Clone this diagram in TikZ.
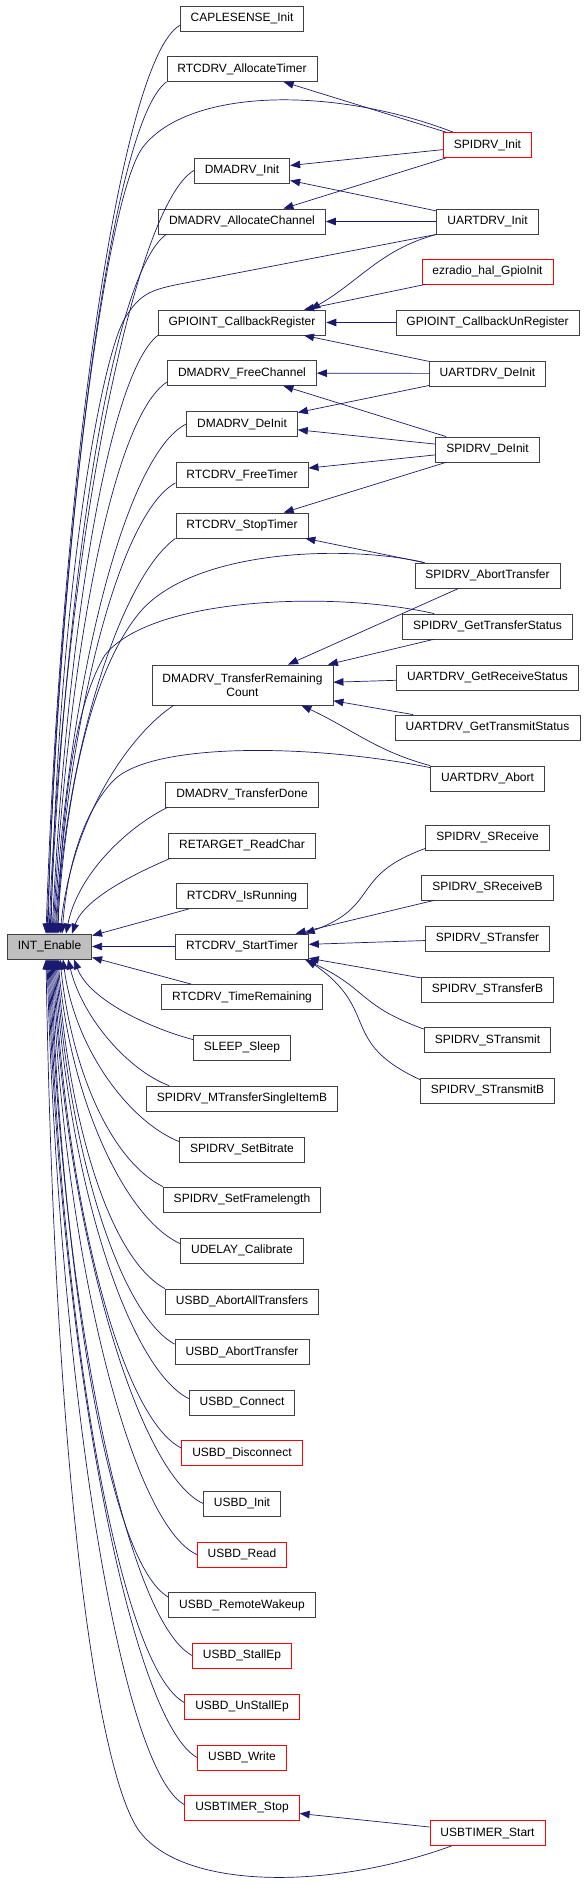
\documentclass[tikz,border=0pt]{standalone}
\usepackage{fontspec}
\setmainfont{Liberation Sans}
\usepackage{tikz}
\usetikzlibrary{arrows.meta,calc}
\definecolor{EDGE}{HTML}{191970}
\definecolor{FRAME}{HTML}{404040}
\definecolor{RED}{HTML}{FF0000}
\definecolor{ROOT}{HTML}{BFBFBF}

\begin{document}
\begin{tikzpicture}[x=1pt,y=1pt]
\tikzset{fn/.style={draw=FRAME,line width=0.8pt,fill=white,rectangle,minimum height=25pt,inner xsep=10.5pt,inner ysep=2pt,font=\fontsize{12}{14.5}\selectfont},
 fnred/.style={fn,draw=RED},fnroot/.style={fn,fill=ROOT},
 callln/.style={{Triangle[length=10pt,width=7.5pt]}-,draw=EDGE,line width=0.7pt}}
\useasboundingbox (0,0) rectangle (587,-1884);
% left: the called function
\node[fnroot] (int) at (49.5,-946.5) {INT\_Enable};
% middle column
\node[fn] (cap) at (242,-18.5) {CAPLESENSE\_Init};
\node[fn] (rtcalloc) at (242,-69) {RTCDRV\_AllocateTimer};
\node[fn] (dmainit) at (242,-170.5) {DMADRV\_Init};
\node[fn] (dmaalloc) at (242,-221.5) {DMADRV\_AllocateChannel};
\node[fn] (gpioreg) at (242,-322.5) {GPIOINT\_CallbackRegister};
\node[fn] (dmafree) at (242,-373) {DMADRV\_FreeChannel};
\node[fn] (dmadeinit) at (242,-424) {DMADRV\_DeInit};
\node[fn] (rtcfree) at (242,-475) {RTCDRV\_FreeTimer};
\node[fn] (rtcstop) at (242,-525.5) {RTCDRV\_StopTimer};
\node[fn,minimum height=40pt,align=center] (trc) at (242.5,-685) {DMADRV\_TransferRemaining\\Count};
\node[fn] (dmadone) at (242,-794.5) {DMADRV\_TransferDone};
\node[fn] (retarget) at (242,-845.5) {RETARGET\_ReadChar};
\node[fn] (rtcisrun) at (242,-896) {RTCDRV\_IsRunning};
\node[fn] (rtcstart) at (242,-946.5) {RTCDRV\_StartTimer};
\node[fn] (rtcremain) at (242,-997) {RTCDRV\_TimeRemaining};
\node[fn] (sleep) at (242,-1047.5) {SLEEP\_Sleep};
\node[fn] (mtransfer) at (242,-1098.5) {SPIDRV\_MTransferSingleItemB};
\node[fn] (setbitrate) at (242,-1149.5) {SPIDRV\_SetBitrate};
\node[fn] (setframe) at (242,-1199.5) {SPIDRV\_SetFramelength};
\node[fn] (udelay) at (242,-1250.5) {UDELAY\_Calibrate};
\node[fn] (usbabortall) at (242,-1301.5) {USBD\_AbortAllTransfers};
\node[fn] (usbabort) at (242,-1352) {USBD\_AbortTransfer};
\node[fn] (usbconnect) at (242,-1402.5) {USBD\_Connect};
\node[fnred] (usbdisconn) at (242,-1453) {USBD\_Disconnect};
\node[fn] (usbinit) at (242,-1503.5) {USBD\_Init};
\node[fnred] (usbread) at (242,-1554.5) {USBD\_Read};
\node[fn] (usbwakeup) at (242,-1605) {USBD\_RemoteWakeup};
\node[fnred] (usbstall) at (242,-1655.5) {USBD\_StallEp};
\node[fnred] (usbunstall) at (242,-1706.5) {USBD\_UnStallEp};
\node[fnred] (usbwrite) at (242,-1757.5) {USBD\_Write};
\node[fnred] (usbtstop) at (242,-1807.5) {USBTIMER\_Stop};
% right column
\node[fnred] (spiinit) at (487.5,-145) {SPIDRV\_Init};
\node[fn] (uartinit) at (487.5,-221.5) {UARTDRV\_Init};
\node[fnred] (ezradio) at (487.5,-271.5) {ezradio\_hal\_GpioInit};
\node[fn] (gpiounreg) at (487.5,-322.5) {GPIOINT\_CallbackUnRegister};
\node[fn] (uartdeinit) at (487.5,-373.5) {UARTDRV\_DeInit};
\node[fn] (spideinit) at (487.5,-449.5) {SPIDRV\_DeInit};
\node[fn] (spiabort) at (487.5,-575.5) {SPIDRV\_AbortTransfer};
\node[fn] (spigetstat) at (487.5,-626.5) {SPIDRV\_GetTransferStatus};
\node[fn] (uartgetrx) at (487.5,-677.5) {UARTDRV\_GetReceiveStatus};
\node[fn] (uartgettx) at (487.5,-727.5) {UARTDRV\_GetTransmitStatus};
\node[fn] (uartabort) at (487.5,-778.5) {UARTDRV\_Abort};
\node[fn] (sreceive) at (487.5,-837.5) {SPIDRV\_SReceive};
\node[fn] (sreceiveb) at (487.5,-887.5) {SPIDRV\_SReceiveB};
\node[fn] (stransfer) at (487.5,-938.5) {SPIDRV\_STransfer};
\node[fn] (stransferb) at (487.5,-989.5) {SPIDRV\_STransferB};
\node[fn] (stransmit) at (487.5,-1040) {SPIDRV\_STransmit};
\node[fn] (stransmitb) at (487.5,-1090.5) {SPIDRV\_STransmitB};
\node[fnred] (usbtstart) at (487.5,-1833) {USBTIMER\_Start};
% callers of INT_Enable, upper half
\draw[callln] ([xshift=-3.5pt]int.north) .. controls +(15,450) and +(-60,-35) .. ([yshift=6pt]cap.south west);
\draw[callln] ([xshift=-2.5pt]int.north) .. controls +(15,420) and +(-55,-40) .. (rtcalloc.south west);
\draw[callln] ([xshift=-1.5pt]int.north) .. controls (55,-600) and (103,-199) .. (143,-147) .. controls (188,-89) and (330,-85) .. ([xshift=10pt]spiinit.north west);
\draw[callln] ([xshift=-0.5pt]int.north) .. controls +(15,380) and +(-60,-35) .. (dmainit.west);
\draw[callln] ([xshift=0.5pt]int.north) .. controls +(15,350) and +(-55,-40) .. ([xshift=8pt]dmaalloc.south west);
\draw[callln] ([xshift=1.5pt]int.north) .. controls (58,-600) and (100,-360) .. (125,-318) .. controls (140,-294) and (150,-290) .. (180,-284) -- (uartinit.south west);
\draw[callln] ([xshift=2.5pt]int.north) .. controls +(15,300) and +(-50,-40) .. (gpioreg.south west);
\draw[callln] ([xshift=3.5pt]int.north) .. controls +(15,275) and +(-55,-35) .. ([yshift=4pt]dmafree.south west);
\draw[callln] ([xshift=4.5pt]int.north) .. controls +(15,255) and +(-60,-30) .. (dmadeinit.west);
\draw[callln] ([xshift=5.5pt]int.north) .. controls +(15,225) and +(-55,-30) .. ([yshift=5pt]rtcfree.south west);
\draw[callln] ([xshift=6.5pt]int.north) .. controls +(12,200) and +(-50,-35) .. (rtcstop.south west);
\draw[callln] ([xshift=7.5pt]int.north) .. controls (68,-760) and (100,-660) .. (140,-612) .. controls (195,-548) and (350,-545) .. ([xshift=10pt]spiabort.north west);
\draw[callln] ([xshift=8.5pt]int.north) .. controls (62,-800) and (75,-705) .. (105,-655) .. controls (150,-598) and (330,-590) .. ([xshift=32pt]spigetstat.north west);
\draw[callln] ([xshift=10.5pt]int.north) .. controls +(12,115) and +(-45,-30) .. ([xshift=22pt]trc.south west);
\draw[callln] ([xshift=12.5pt]int.north) .. controls (68,-860) and (85,-812) .. (112,-782) .. controls (150,-740) and (320,-745) .. ([yshift=-2pt]uartabort.north west);
\draw[callln] ([xshift=16.5pt]int.north) .. controls +(12,60) and +(-40,-20) .. ([xshift=2pt]dmadone.south west);
\draw[callln] ([xshift=22.5pt]int.north) .. controls +(12,35) and +(-35,-15) .. ([xshift=2pt]retarget.south west);
\draw[callln] ([yshift=-2pt]int.north east) -- ([xshift=13pt]rtcisrun.south west);
\draw[callln] (int) -- (rtcstart);
\draw[callln] ([yshift=2pt]int.south east) -- ([xshift=30pt]rtcremain.north west);
% callers of INT_Enable, lower half
\draw[callln] ([xshift=24.5pt]int.south) .. controls +(15,-40) and +(-45,12) .. ([yshift=-5pt]sleep.north west);
\draw[callln] ([xshift=18.5pt]int.south) .. controls +(15,-60) and +(-40,15) .. ([xshift=23pt]mtransfer.north west);
\draw[callln] ([xshift=13.5pt]int.south) .. controls +(12,-90) and +(-50,20) .. ([yshift=-5pt]setbitrate.north west);
\draw[callln] ([xshift=10.5pt]int.south) .. controls +(12,-115) and +(-50,25) .. (setframe.north west);
\draw[callln] ([xshift=8.5pt]int.south) .. controls +(12,-140) and +(-55,25) .. ([yshift=-6pt]udelay.north west);
\draw[callln] ([xshift=7.5pt]int.south) .. controls +(12,-165) and +(-55,30) .. (usbabortall.north west);
\draw[callln] ([xshift=6.5pt]int.south) .. controls +(12,-190) and +(-55,30) .. ([yshift=-5pt]usbabort.north west);
\draw[callln] ([xshift=5.5pt]int.south) .. controls +(12,-220) and +(-60,30) .. ([yshift=-9pt]usbconnect.north west);
\draw[callln] ([xshift=4.5pt]int.south) .. controls +(12,-245) and +(-60,30) .. ([yshift=-8pt]usbdisconn.north west);
\draw[callln] ([xshift=3.5pt]int.south) .. controls +(12,-270) and +(-65,30) .. (usbinit.west);
\draw[callln] ([xshift=2.5pt]int.south) .. controls +(12,-300) and +(-65,30) .. (usbread.west);
\draw[callln] ([xshift=1.5pt]int.south) .. controls +(12,-320) and +(-60,35) .. ([yshift=-5pt]usbwakeup.north west);
\draw[callln] ([xshift=0.5pt]int.south) .. controls +(12,-350) and +(-65,35) .. (usbstall.west);
\draw[callln] ([xshift=-0.5pt]int.south) .. controls +(12,-370) and +(-65,35) .. ([yshift=-9pt]usbunstall.north west);
\draw[callln] ([xshift=-1.5pt]int.south) .. controls +(12,-400) and +(-65,35) .. (usbwrite.west);
\draw[callln] ([xshift=-2.5pt]int.south) .. controls +(12,-420) and +(-65,35) .. ([yshift=-10pt]usbtstop.north west);
\draw[callln] ([xshift=-3.5pt]int.south) .. controls (55,-1500) and (100,-1780) .. (140,-1832) .. controls (185,-1890) and (330,-1890) .. ([xshift=22pt]usbtstart.south west);
% middle <- right
\draw[callln] (rtcalloc) -- (spiinit);
\draw[callln] (dmainit) -- (spiinit);
\draw[callln] (dmainit) -- (uartinit);
\draw[callln] (dmaalloc) -- (spiinit);
\draw[callln] (dmaalloc) -- (uartinit);
\draw[callln] ([xshift=-16pt]gpioreg.north east) to[out=30,in=195] (uartinit.south west);
\draw[callln] (gpioreg) -- (ezradio);
\draw[callln] (gpioreg) -- (gpiounreg);
\draw[callln] (gpioreg) -- (uartdeinit);
\draw[callln] (dmafree) -- (uartdeinit);
\draw[callln] (dmafree) -- (spideinit);
\draw[callln] (dmadeinit) -- (uartdeinit);
\draw[callln] (dmadeinit) -- (spideinit);
\draw[callln] (rtcfree) -- (spideinit);
\draw[callln] (rtcstop) -- (spideinit);
\draw[callln] (rtcstop) -- (spiabort);
\draw[callln] (trc) -- (spiabort);
\draw[callln] (trc) -- (spigetstat);
\draw[callln] (trc) -- (uartgetrx);
\draw[callln] (trc) -- (uartgettx);
\draw[callln] ([xshift=-32pt]trc.south east) to[out=-25,in=165] (uartabort.north west);
\draw[callln] ([xshift=-4pt]rtcstart.north east) to[out=20,in=200,looseness=1.4] ([yshift=2pt]sreceive.south west);
\draw[callln] (rtcstart) -- (sreceiveb);
\draw[callln] (rtcstart) -- (stransfer);
\draw[callln] (rtcstart) -- (stransferb);
\draw[callln] ([xshift=-4pt]rtcstart.south east) to[out=-25,in=160,looseness=1.3] ([yshift=-2pt]stransmit.north west);
\draw[callln] ([xshift=-2pt]rtcstart.south east) to[out=-35,in=155,looseness=1.4] ([yshift=-2pt]stransmitb.north west);
\draw[callln] (usbtstop) -- (usbtstart);
\end{tikzpicture}
\end{document}
